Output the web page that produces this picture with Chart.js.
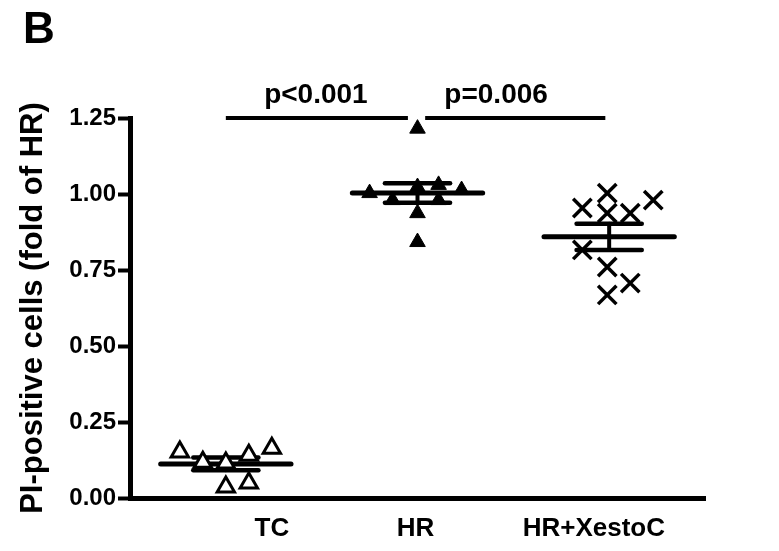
<!DOCTYPE html>
<html>
<head>
<meta charset="utf-8">
<script src="https://cdn.jsdelivr.net/npm/chart.js@4.4.1/dist/chart.umd.min.js"></script>
<style>
  html, body { margin: 0; padding: 0; background: #fff; }
  #wrap { position: relative; width: 779px; height: 551px; }
</style>
</head>
<body>
<div id="wrap"><canvas id="chart"></canvas></div>
<script>
// 그룹 / 축 라벨
const groupNames = ['TC', 'HR', 'HR+XestoC'];
const groupPos = [1, 2, 3];
const tickLabelPos = [1.24, 1.99, 2.92];
const yTicks = [0, 0.25, 0.5, 0.75, 1.0, 1.25];

// 개별 데이터 (x = 지터 위치, y = fold of HR)
const tcX = [0.76, 0.88, 1.0, 1.12, 1.24, 1.0, 1.12];
const tcY = [0.151, 0.118, 0.115, 0.141, 0.164, 0.036, 0.049];
const hrX = [2.0, 1.75, 1.87, 2.0, 2.11, 2.11, 2.23, 2.0, 2.0];
const hrY = [1.215, 1.003, 0.98, 1.023, 1.03, 0.98, 1.013, 0.937, 0.842];
const xcX = [2.99, 2.86, 3.23, 2.99, 3.11, 2.86, 2.99, 3.11, 2.99];
const xcY = [1.003, 0.954, 0.98, 0.937, 0.937, 0.816, 0.76, 0.707, 0.668];

// 평균 ± SEM
const groupMean = [0.112, 1.003, 0.859];
const groupSem = [0.021, 0.032, 0.043];

// 유의성 표시
const sigPairs = [[1, 2], [2, 3]];
const sigLabels = ['p<0.001', 'p=0.006'];
const sigLevel = 1.25;

const FONT = "'Liberation Sans', Arial, Helvetica, sans-serif";

function toPoints(xs, ys) {
    return xs.map((x, i) => ({ x, y: ys[i] }));
}

// 평균선 + SEM 에러바 (데이터 뒤에 그림)
const statsPlugin = {
    id: 'groupStats',
    beforeDatasetsDraw(chart) {
        const { ctx, scales: { x, y } } = chart;
        ctx.save();
        ctx.strokeStyle = '#000';
        ctx.lineCap = 'round';
        groupMean.forEach((m, i) => {
            const c = groupPos[i];
            const yMean = y.getPixelForValue(m);
            const yHi = y.getPixelForValue(m + groupSem[i]);
            const yLo = y.getPixelForValue(m - groupSem[i]);
            ctx.lineWidth = 5;
            ctx.beginPath();
            ctx.moveTo(x.getPixelForValue(c - 0.34), yMean);
            ctx.lineTo(x.getPixelForValue(c + 0.34), yMean);
            ctx.stroke();
            ctx.lineWidth = 4.5;
            [yHi, yLo].forEach(yy => {
                ctx.beginPath();
                ctx.moveTo(x.getPixelForValue(c - 0.17), yy);
                ctx.lineTo(x.getPixelForValue(c + 0.17), yy);
                ctx.stroke();
            });
            ctx.lineWidth = 4;
            ctx.beginPath();
            ctx.moveTo(x.getPixelForValue(c), yHi);
            ctx.lineTo(x.getPixelForValue(c), yLo);
            ctx.stroke();
        });
        ctx.restore();
    },
    afterDraw(chart) {
        const { ctx, scales: { x, y } } = chart;
        ctx.save();
        ctx.strokeStyle = '#000';
        ctx.fillStyle = '#000';
        ctx.lineWidth = 4;
        const yBar = y.getPixelForValue(sigLevel);
        sigPairs.forEach(([a, b], i) => {
            const x1 = x.getPixelForValue(a + (i === 0 ? 0 : 0.04));
            const x2 = x.getPixelForValue(b - (i === 0 ? 0.05 : 0.02));
            ctx.beginPath();
            ctx.moveTo(x1, yBar);
            ctx.lineTo(x2, yBar);
            ctx.stroke();
            ctx.font = `bold 28px ${FONT}`;
            ctx.textAlign = 'center';
            ctx.textBaseline = 'alphabetic';
            const mid = (a + b) / 2 - (i === 0 ? 0.03 : 0.09);
            ctx.fillText(sigLabels[i], x.getPixelForValue(mid), y.getPixelForValue(sigLevel + 0.048));
        });
        // 패널 라벨
        ctx.font = `bold 44px ${FONT}`;
        ctx.textAlign = 'left';
        ctx.textBaseline = 'alphabetic';
        ctx.fillText('B', 23, 43);
        ctx.restore();
    }
};

new Chart(document.getElementById('chart'), {
    type: 'scatter',
    data: {
        datasets: [
            {
                label: groupNames[0], data: toPoints(tcX, tcY),
                pointStyle: 'triangle', pointRadius: 10, pointBackgroundColor: '#fff',
                pointBorderColor: '#000', pointBorderWidth: 3, clip: false
            },
            {
                label: groupNames[1], data: toPoints(hrX, hrY),
                pointStyle: 'triangle', pointRadius: 9, pointBackgroundColor: '#000',
                pointBorderColor: '#000', pointBorderWidth: 1, clip: false
            },
            {
                label: groupNames[2], data: toPoints(xcX, xcY),
                pointStyle: 'crossRot', pointRadius: 13, pointBackgroundColor: '#000',
                pointBorderColor: '#000', pointBorderWidth: 3.5, clip: false
            }
        ]
    },
    options: {
        responsive: true,
        maintainAspectRatio: false,
        animation: false,
        layout: { padding: { top: 118, right: 74, left: 0, bottom: 0 } },
        plugins: { legend: { display: false }, tooltip: { enabled: false } },
        scales: {
            x: {
                type: 'linear', min: 0.5, max: 3.5,
                grid: { display: false, drawTicks: false },
                border: { display: true, color: '#000', width: 5 },
                afterBuildTicks: s => { s.ticks = tickLabelPos.map(v => ({ value: v })); },
                afterFit: s => { s.height = 53; },
                ticks: {
                    autoSkip: false, maxRotation: 0, padding: 15, color: '#000',
                    font: { family: FONT, size: 26, weight: 'bold' },
                    callback: (v, i) => groupNames[i]
                }
            },
            y: {
                min: 0, max: 1.25,
                afterBuildTicks: s => { s.ticks = yTicks.map(v => ({ value: v })); },
                afterFit: s => { s.width = 130; },
                grid: { drawOnChartArea: false, drawTicks: true, tickLength: 12, tickWidth: 4, color: '#000' },
                border: { display: true, color: '#000', width: 5 },
                ticks: {
                    padding: 2, color: '#000',
                    font: { family: FONT, size: 24, weight: 'bold' },
                    callback: v => v.toFixed(2)
                },
                title: {
                    display: true, text: 'PI-positive cells (fold of HR)', color: '#000',
                    font: { family: FONT, size: 31, weight: 'bold' },
                    padding: { top: 15, bottom: 0 }
                }
            }
        }
    },
    plugins: [statsPlugin]
});
</script>
</body>
</html>
